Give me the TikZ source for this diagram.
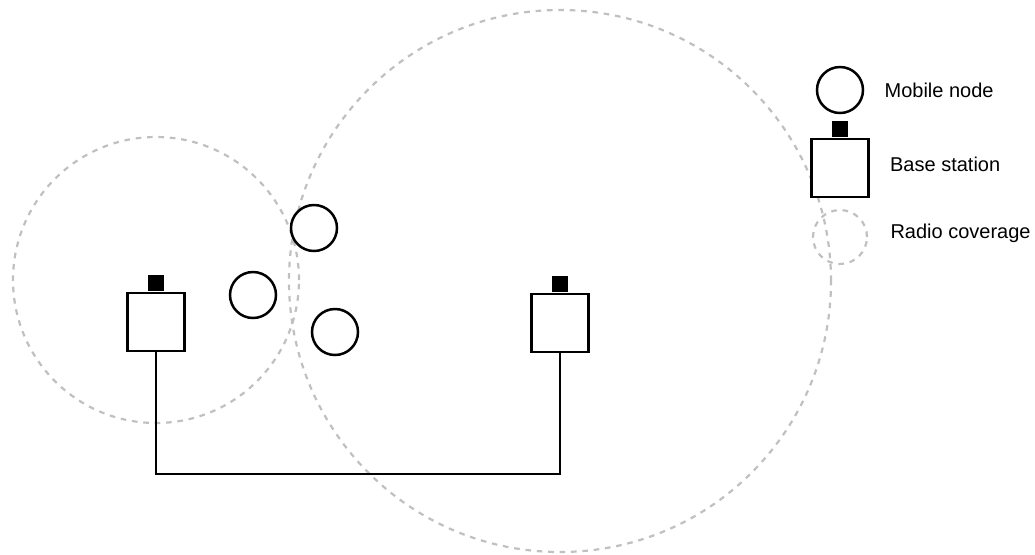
\documentclass[tikz,border=0pt]{standalone}
\usepackage{fontspec}
\setmainfont{Liberation Sans}
\usetikzlibrary{positioning}
\definecolor{coverage}{HTML}{C0C0C0}
\tikzset{
  mobilenode/.style={
    circle, draw=black, fill=white, line width=1.25pt,
    minimum size=23pt, inner sep=0pt
  },
  basestation/.style={
    rectangle, draw=black, fill=white, line width=1.25pt,
    minimum width=28.5pt, minimum height=29pt, inner sep=0pt
  },
  antenna/.style={
    rectangle, fill=black,
    minimum width=8pt, minimum height=8pt, inner sep=0pt
  },
  radiorange/.style={
    circle, draw=coverage, line width=1.1pt, dash pattern=on 2.8pt off 2.9pt,
    minimum size=#1, inner sep=0pt
  },
  backhaul/.style={
    line width=1.25pt, draw=black
  },
  legendlabel/.style={
    font=\fontsize{10}{12}\selectfont, inner sep=0pt
  },
}
\begin{document}
\begin{tikzpicture}[x=0.5pt, y=-0.5pt]
  \useasboundingbox (0,0) rectangle (1035,554);

  % Coverage areas
  \node[radiorange=143pt] (cov1) at (156,280) {};
  \node[radiorange=271pt] (cov2) at (560,281) {};

  % Base stations
  \node[basestation] (bs1) at (156,322) {};
  \node[antenna, above=0pt of bs1] (ant1) {};
  \node[basestation] (bs2) at (560,323) {};
  \node[antenna, above=0pt of bs2] (ant2) {};

  % Wired link between the stations
  \coordinate (bend) at (560,474);
  \draw[backhaul] (bs1.south) |- (bend) -- (bs2.south);

  % Mobile nodes
  \node[mobilenode] (mn1) at (314,228) {};
  \node[mobilenode] (mn2) at (253,295) {};
  \node[mobilenode] (mn3) at (335,332) {};

  % Legend
  \node[mobilenode] (lmn) at (840,90) {};
  \node[basestation] (lbs) at (840,168) {};
  \node[antenna, above=0pt of lbs] (lant) {};
  \node[radiorange=27pt] (lcov) at (840,237) {};
  \node[legendlabel, right=10pt of lmn] (lmntext) {Mobile node};
  \node[legendlabel, right=10pt of lbs, yshift=1.8pt] (lbstext) {Base station};
  \node[legendlabel, right=11pt of lcov, yshift=2pt] (lcovtext) {Radio coverage};
\end{tikzpicture}
\end{document}
